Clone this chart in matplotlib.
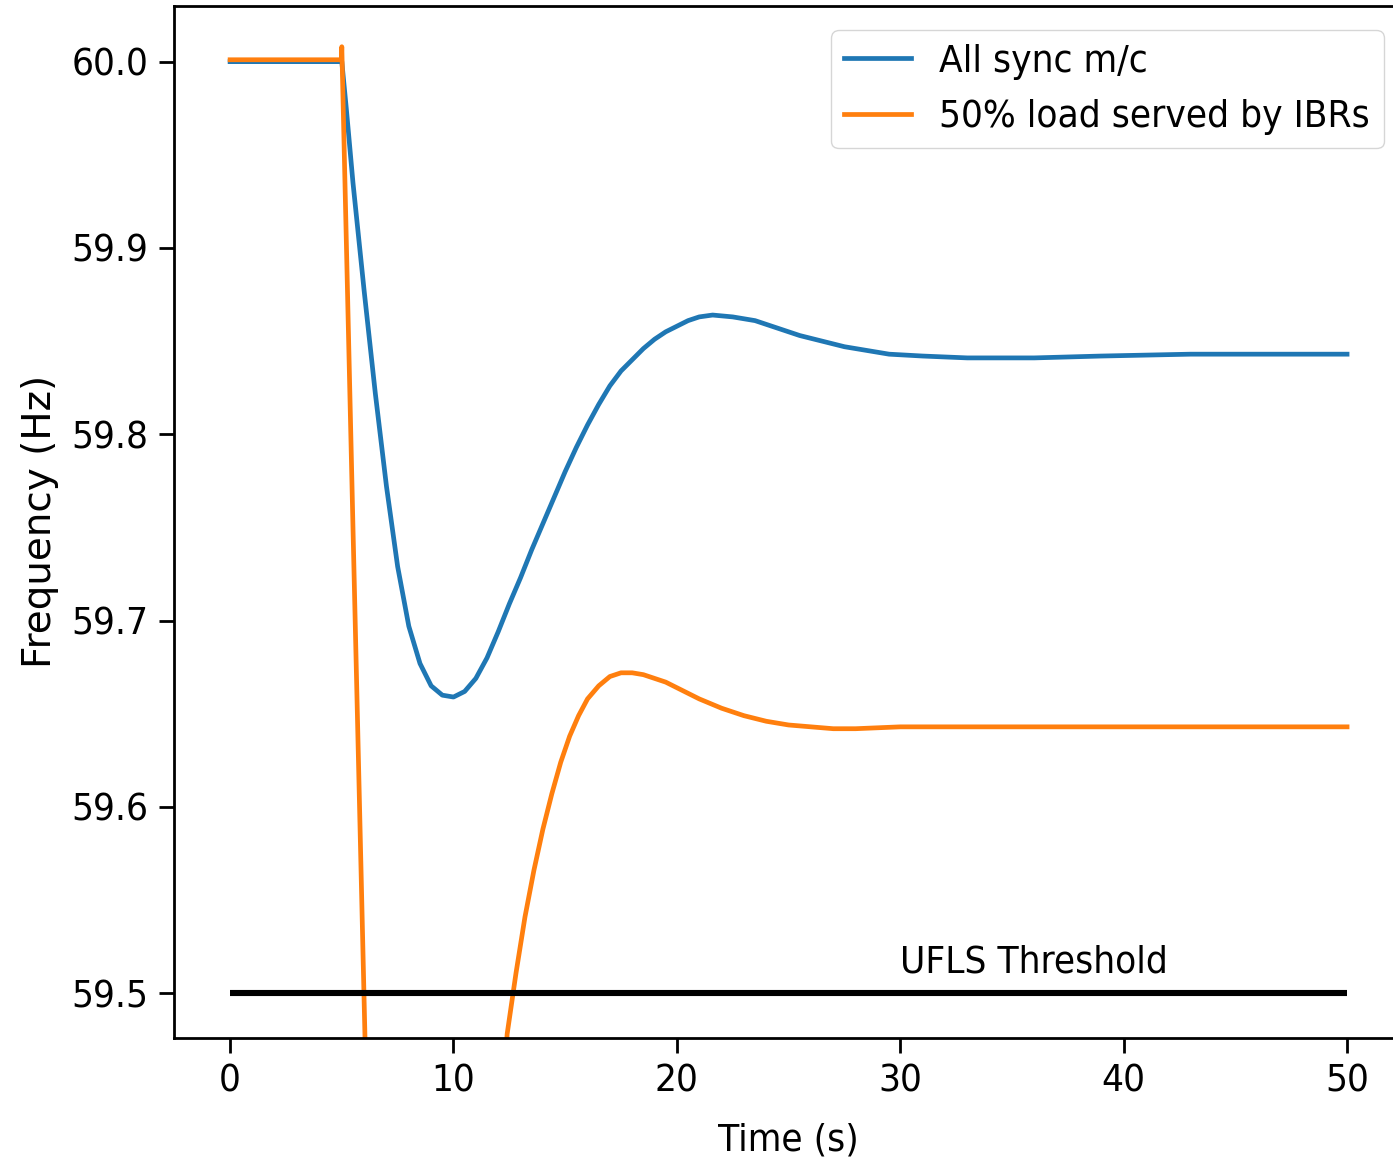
import numpy as np
import matplotlib
matplotlib.use("Agg")
from matplotlib import pyplot as plt

# time (s) / frequency (Hz)
sync_t = [0.0, 5.0, 5.2, 5.5, 6.0, 6.5, 7.0, 7.5, 8.0, 8.5, 9.0, 9.5, 10.0, 10.5,
          11.0, 11.5, 12.0, 12.5, 13.0, 13.5, 14.0, 14.5, 15.0, 15.5, 16.0, 16.5,
          17.0, 17.5, 18.0, 18.5, 19.0, 19.5, 20.0, 20.5, 21.0, 21.6, 22.5, 23.5,
          24.5, 25.5, 26.5, 27.5, 28.5, 29.5, 31.0, 33.0, 36.0, 39.0, 43.0, 50.0]
sync_f = [60.0, 60.0, 59.975, 59.935, 59.877, 59.822, 59.772, 59.729, 59.697,
          59.677, 59.665, 59.660, 59.659, 59.662, 59.669, 59.680, 59.694, 59.709,
          59.723, 59.738, 59.752, 59.766, 59.780, 59.793, 59.805, 59.816, 59.826,
          59.834, 59.840, 59.846, 59.851, 59.855, 59.858, 59.861, 59.863, 59.864,
          59.863, 59.861, 59.857, 59.853, 59.850, 59.847, 59.845, 59.843, 59.842,
          59.841, 59.841, 59.842, 59.843, 59.843]

ibr_t = [0.0, 4.98, 5.0, 5.5, 6.05, 7.0, 8.5, 10.0, 11.3, 12.4, 12.8, 13.2, 13.6,
         14.0, 14.4, 14.8, 15.2, 15.6, 16.0, 16.5, 17.0, 17.5, 18.0, 18.5, 19.0,
         19.5, 20.0, 21.0, 22.0, 23.0, 24.0, 25.0, 26.0, 27.0, 28.0, 30.0, 50.0]
ibr_f = [60.001, 60.001, 60.008, 59.75, 59.47, 59.10, 58.90, 59.00, 59.25, 59.478,
         59.511, 59.541, 59.566, 59.588, 59.607, 59.624, 59.638, 59.649, 59.658,
         59.665, 59.670, 59.672, 59.672, 59.671, 59.669, 59.667, 59.664, 59.658,
         59.653, 59.649, 59.646, 59.644, 59.643, 59.642, 59.642, 59.643, 59.643]

ufls = 59.5
ufls_span = [0, 50]

fs = 27.7
plt.rcParams['font.family'] = ['DejaVu Sans']
plt.rcParams['font.stretch'] = 'condensed'
plt.rcParams['font.size'] = fs

fig = plt.figure(figsize=(13.93, 11.59), dpi=100)
ax = fig.add_axes([0.1251, 0.1047, 0.8820, 0.8902])

ax.plot(sync_t, sync_f, color='#1f77b4', lw=3.4, label="All sync m/c")
ax.plot(ibr_t, ibr_f, color='#ff7f0e', lw=3.4, label="50% load served by IBRs")
ax.hlines(ufls, ufls_span[0], ufls_span[1], color='black', lw=4.4)
ax.text(30, 59.511, "UFLS Threshold", fontsize=fs)

ax.set_xlim(-2.5, 52.5)
ax.set_ylim(59.4762, 60.0299)
ax.set_xticks([0, 10, 20, 30, 40, 50])
ax.set_yticks([59.5, 59.6, 59.7, 59.8, 59.9, 60.0])
ax.set_yticklabels(["59.5", "59.6", "59.7", "59.8", "59.9", "60.0"])
ax.tick_params(length=10.5, width=2.0, pad=8, labelsize=fs)
for sp in ax.spines.values():
    sp.set_linewidth(2.0)

ax.set_xlabel("Time (s)", fontsize=fs, labelpad=17)
ax.set_ylabel("Frequency (Hz)", fontsize=28, fontstretch='normal', labelpad=9)
ax.legend(loc="upper right", fontsize=fs, handlelength=1.72, borderpad=0.35,
          handletextpad=0.75, bbox_to_anchor=(1.0, 0.995))

fig.savefig("out.png", dpi=100)
